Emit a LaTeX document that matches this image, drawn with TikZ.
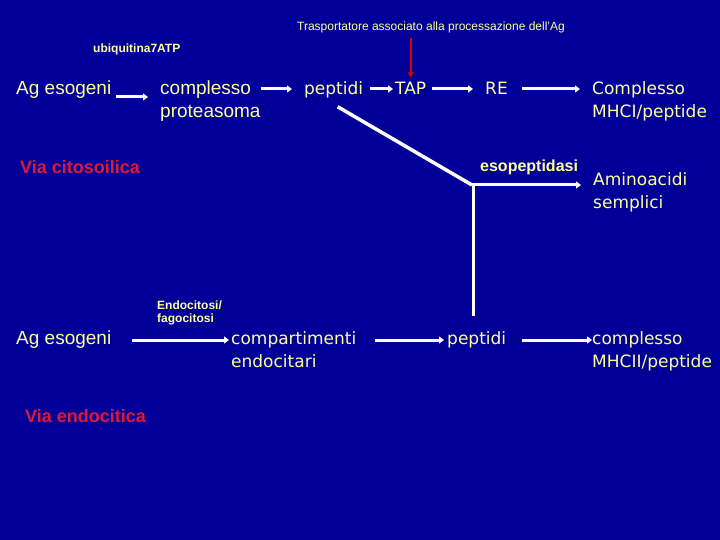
\documentclass[tikz,border=0pt]{standalone}
\usepackage{fontspec}
\setmainfont{Liberation Sans}
\newfontfamily\tah{DejaVu Sans}
\usetikzlibrary{arrows.meta,calc}
\definecolor{bgblue}{RGB}{0,0,153}
\definecolor{ltyellow}{RGB}{255,255,153}
\definecolor{vred}{RGB}{224,24,56}
\tikzset{
  lbl/.style={inner sep=0pt, anchor=base west, text=ltyellow, align=left},
  arial/.style={lbl, font=\fontsize{19}{23}\selectfont},
  tahoma/.style={lbl, font=\tah\fontsize{17}{23}\selectfont},
  smallbold/.style={lbl, font=\bfseries\fontsize{12}{13}\selectfont},
  redlbl/.style={lbl, text=vred, font=\bfseries\fontsize{18}{20}\selectfont},
  arr/.style={draw=white, line width=3pt, -{Triangle[length=5pt,width=7pt]}},
  plain/.style={draw=white, line width=3pt},
  redarr/.style={draw=red!85!black, line width=2pt, -{Triangle[length=5pt,width=6pt]}}
}
\begin{document}
\begin{tikzpicture}[x=1pt,y=1pt]
\useasboundingbox (0,0) rectangle (720,-540);
\fill[bgblue] (0,0) rectangle (720,-540);

% texts (multi-line nodes are placed at the baseline of their last line)
\node[lbl, anchor=base, font=\fontsize{12}{14}\selectfont] (title) at (431,-31) {Trasportatore associato alla processazione dell'Ag};
\node[smallbold] (ubiq) at (93,-53) {ubiquitina7ATP};

\node[arial] (ag1) at (16,-95) {Ag esogeni};
\node[arial] (cp1) at (160,-118) {complesso\\proteasoma};
\node[tahoma] (pep1) at (304,-95) {peptidi};
\node[tahoma] (tap) at (395,-95) {TAP};
\node[tahoma] (re) at (485,-95) {RE};
\node[tahoma] (mhc1) at (592,-118) {Complesso\\MHCI/peptide};

\node[redlbl] (viacit) at (20,-174) {Via citosoilica};
\node[lbl, font=\bfseries\fontsize{16}{18}\selectfont] (esop) at (480,-172) {esopeptidasi};
\node[tahoma] (amino) at (593,-208) {Aminoacidi\\semplici};

\node[smallbold] (endo) at (157,-322) {Endocitosi/\\fagocitosi};
\node[arial] (ag2) at (16,-344) {Ag esogeni};
\node[tahoma] (comp) at (231,-367) {compartimenti\\endocitari};
\node[tahoma] (pep2) at (447,-344) {peptidi};
\node[tahoma] (mhc2) at (592,-367) {complesso\\MHCII/peptide};
\node[redlbl] (viaend) at (25,-422) {Via endocitica};

% connectors row 1
\draw[redarr] ($(title.south -| tap.north)+(0,-4)$) -- ($(tap.north)+(0,5)$);
\draw[arr] ($(ag1.base east)+(5,-2)$) -- ($(cp1.west |- ag1.base)+(-12,-2)$);
\draw[arr] ($(cp1.east |- pep1.base)+(0,6)$) -- ($(pep1.base west)+(-12,6)$);
\draw[arr] ($(pep1.base east)+(7,6)$) -- ($(tap.base west)+(-2,6)$);
\draw[arr] ($(tap.base east)+(6,6)$) -- ($(re.base west)+(-12,6)$);
\draw[arr] ($(re.base east)+(14,6)$) -- ($(mhc1.west |- re.base)+(-12,6)$);

% branch
\coordinate (junc) at (472,-185);
\draw[plain, line width=3.5pt] ($(pep1.south)+(4,-8)$) -- (junc);
\draw[arr] (junc) -- ($(amino.west |- esop.base)+(-12,-13)$);
\draw[plain] ($(junc)+(1,0)$) -- ($(pep2.north -| junc)+(1,15)$);

% connectors row 2
\draw[arr] ($(ag2.base east)+(21,4)$) -- ($(comp.west |- ag2.base)+(-2,4)$);
\draw[arr] ($(comp.east |- pep2.base)+(19,4)$) -- ($(pep2.base west)+(-3,4)$);
\draw[arr] ($(pep2.base east)+(16,4)$) -- ($(mhc2.west |- pep2.base)+(0,4)$);
\end{tikzpicture}
\end{document}
